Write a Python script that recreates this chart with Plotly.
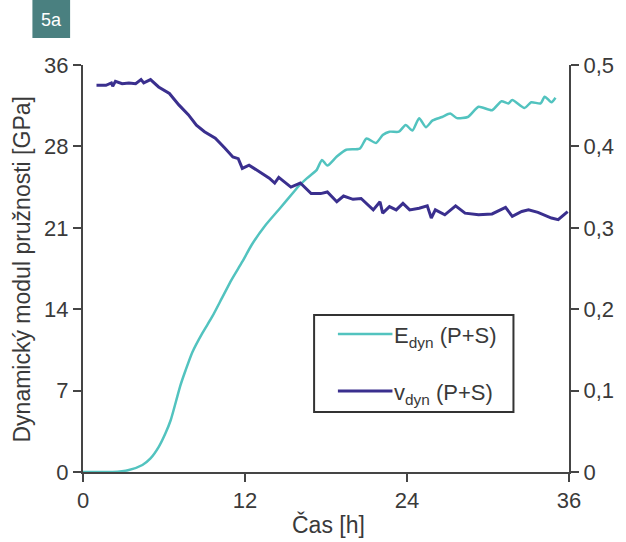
import plotly.graph_objects as go

# ---- data ----
e_t = [0, 1, 2.2, 3.4, 4.4, 5.0, 5.6, 6.1, 6.5, 6.9, 7.2, 7.6, 8.1, 8.8, 9.6, 10.3, 11.0, 11.8, 12.5,
       13.5, 14.5, 15.7, 15.9, 16.6, 17.3, 17.7, 18.1, 18.8, 19.5, 20.5, 21.0, 21.7, 22.2, 22.7,
       23.4, 23.9, 24.4, 24.9, 25.4, 25.9, 26.6, 27.2, 27.7, 28.5, 29.3, 30.3, 31.0, 31.5, 31.8,
       32.7, 33.2, 33.9, 34.2, 34.7, 35.0]
e_dyn = [0, 0, 0.0, 0.18, 0.62, 1.2, 2.2, 3.4, 4.6, 6.3, 7.6, 9.0, 10.6, 12.2, 13.8, 15.4, 17.0, 18.6, 20.1,
         21.8, 23.2, 24.9, 25.2, 26.0, 26.7, 27.6, 27.1, 27.9, 28.5, 28.6, 29.5, 29.1, 29.8, 30.1,
         30.1, 30.7, 30.2, 31.3, 30.5, 31.1, 31.4, 31.7, 31.3, 31.4, 32.3, 32.0, 32.8, 32.6, 32.9,
         32.2, 32.7, 32.6, 33.2, 32.7, 33.1]

v_t = [1.0, 1.7, 2.1, 2.2, 2.4, 2.9, 3.4, 3.9, 4.3, 4.5, 5.0, 5.6, 6.4, 7.1, 7.8, 8.4, 9.0, 9.8,
       10.5, 11.1, 11.5, 11.8, 12.3, 13.1, 13.8, 14.2, 14.5, 15.4, 16.1, 16.9, 17.6, 18.1, 18.8,
       19.3, 20.0, 20.6, 21.5, 22.0, 22.2, 22.7, 23.2, 23.7, 24.2, 24.9, 25.5, 25.8, 26.1, 26.8,
       27.6, 28.3, 29.3, 30.3, 31.3, 31.8, 32.5, 33.0, 33.7, 34.7, 35.2, 35.9]
v_dyn = [0.475, 0.475, 0.478, 0.474, 0.480, 0.477, 0.478, 0.477, 0.482, 0.478, 0.482, 0.473, 0.465,
         0.451, 0.439, 0.426, 0.418, 0.410, 0.398, 0.387, 0.385, 0.373, 0.377, 0.369, 0.361, 0.355,
         0.362, 0.350, 0.355, 0.342, 0.342, 0.344, 0.332, 0.339, 0.335, 0.336, 0.322, 0.332, 0.318,
         0.326, 0.322, 0.330, 0.322, 0.324, 0.327, 0.312, 0.322, 0.316, 0.327, 0.318, 0.316, 0.317,
         0.325, 0.314, 0.320, 0.322, 0.319, 0.312, 0.310, 0.320]

x_ticks = [0, 12, 24, 36]
y_left_vals = [0, 7.2, 14.4, 21.6, 28.8, 36]
y_left_text = ["0", "7", "14", "21", "28", "36"]
y_right_vals = [0, 0.1, 0.2, 0.3, 0.4, 0.5]
y_right_text = ["0", "0,1", "0,2", "0,3", "0,4", "0,5"]

names = ["E<sub>dyn</sub> (P+S)", "v<sub>dyn</sub> (P+S)"]

# ---- style ----
W, H = 626, 542
L, R, T, B = 83, 53, 65, 70
PW, PH = W - L - R, H - T - B
CYAN = "#52c3bf"
PURPLE = "#3a2f8e"
AX = "#454545"
TXT = "#3a3a3a"
FONT = "Liberation Sans, Arial, sans-serif"


def px(x):
    return (x - L) / PW


def py(y):
    return (H - B - y) / PH


fig = go.Figure()
fig.add_trace(go.Scatter(x=e_t, y=e_dyn, mode="lines", name=names[0], line_shape="spline",
                         line=dict(color=CYAN, width=2.5, smoothing=0.6), yaxis="y"))
fig.add_trace(go.Scatter(x=v_t, y=v_dyn, mode="lines", name=names[1],
                         line=dict(color=PURPLE, width=3), yaxis="y2"))

axis_common = dict(showline=True, linecolor=AX, linewidth=2, ticks="outside",
                   ticklen=8, tickwidth=2, tickcolor=AX, showgrid=False, zeroline=False,
                   tickfont=dict(family=FONT, size=22, color=TXT))

fig.update_layout(
    width=W, height=H,
    margin=dict(l=L, r=R, t=T, b=B),
    paper_bgcolor="white", plot_bgcolor="white",
    showlegend=False,
    xaxis=dict(range=[0, 36], tickvals=x_ticks, **axis_common),
    yaxis=dict(range=[0, 36], tickvals=y_left_vals, ticktext=y_left_text, **axis_common),
    yaxis2=dict(range=[0, 0.5], tickvals=y_right_vals, ticktext=y_right_text,
                overlaying="y", side="right", **axis_common),
)

shapes = []
annotations = []


def label(x, y, text, size, color=TXT, xanchor="center", angle=0):
    annotations.append(dict(xref="paper", yref="paper", x=px(x), y=py(y), text=text,
                            xanchor=xanchor, yanchor="middle", textangle=angle,
                            showarrow=False, font=dict(family=FONT, size=size, color=color)))


# badge "5a"
shapes.append(dict(type="rect", xref="paper", yref="paper", x0=px(32), x1=px(70),
                   y0=py(38), y1=py(0), fillcolor="#4a8080", line=dict(width=0)))
label(51, 20, "5a", 18, color="white")

# axis titles
label(21, 270, "Dynamický modul pružnosti [GPa]", 23, angle=-90)
label(331, 524, "Čas [h]", 23)

# legend box
shapes.append(dict(type="rect", xref="paper", yref="paper", x0=px(316), x1=px(517),
                   y0=py(412), y1=py(315), fillcolor="white", line=dict(color="#333333", width=2)))
for i, (col, yy) in enumerate([(CYAN, 334), (PURPLE, 391)]):
    shapes.append(dict(type="line", xref="paper", yref="paper", x0=px(340), x1=px(395),
                       y0=py(yy), y1=py(yy), line=dict(color=col, width=2.5 if i == 0 else 3)))
    label(395, yy + 3, names[i], 22, xanchor="left")

fig.update_layout(shapes=shapes, annotations=annotations)
fig.write_html("out.html")
